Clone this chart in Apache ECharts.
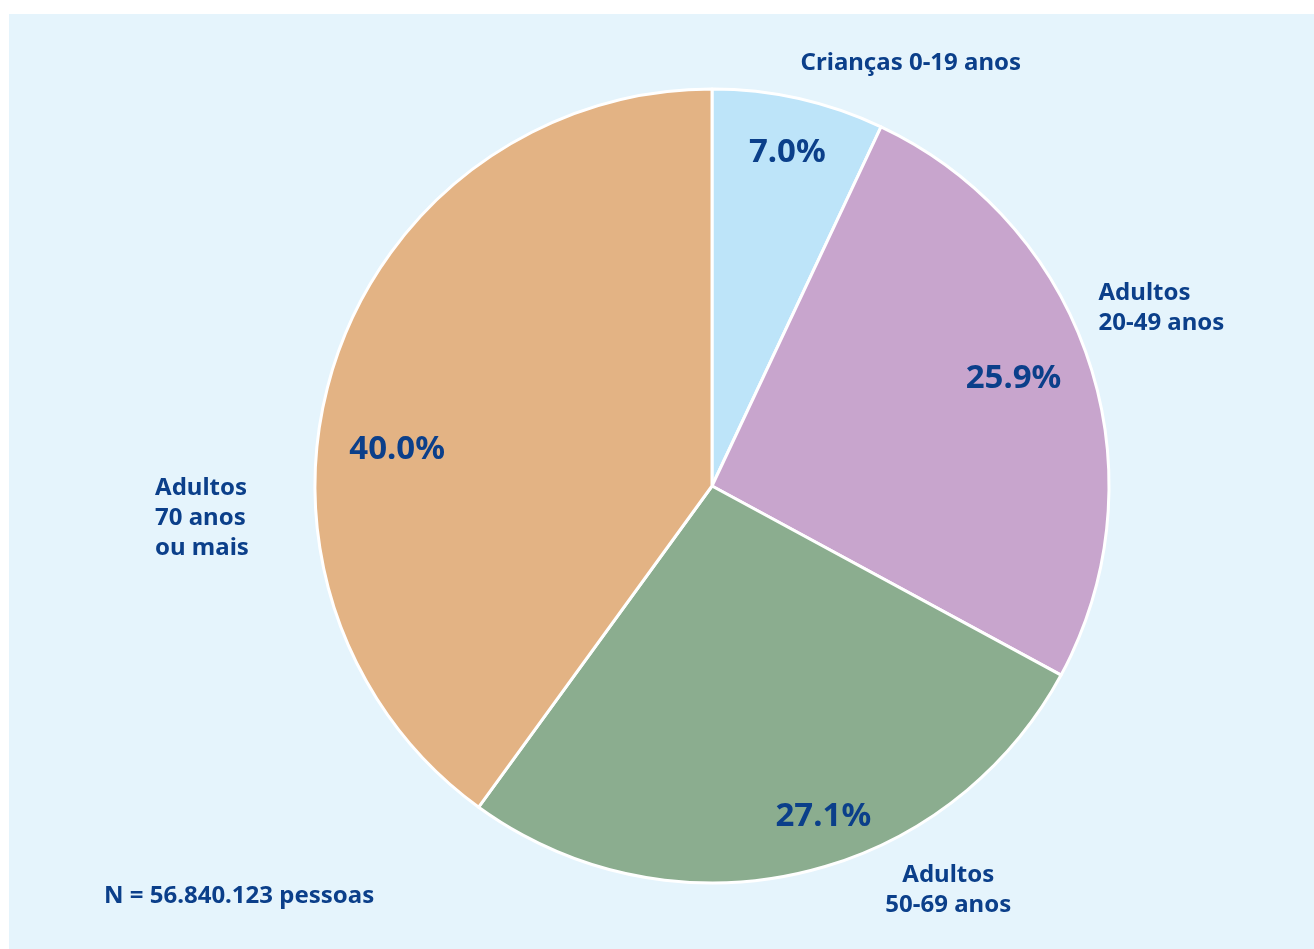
<!DOCTYPE html>
<html>
<head>
<meta charset="utf-8">
<script src="https://cdn.jsdelivr.net/npm/echarts@6/dist/echarts.min.js"></script>
<style>
html,body{margin:0;padding:0;background:#ffffff;}
#panel{position:absolute;left:9px;top:14px;width:1305px;height:935px;background:#E5F4FC;}
#chart{position:absolute;left:0;top:0;width:1314px;height:949px;}
</style>
</head>
<body>
<div id="panel"></div>
<div id="chart"></div>
<script>
const categories = ['Crianças 0-19 anos', 'Adultos\n20-49 anos', 'Adultos\n50-69 anos', 'Adultos\n70 anos\nou mais'];
const values = [7.0, 25.9, 27.1, 40.0];
const colors = ['#BDE4F9', '#C8A5CD', '#8BAD8F', '#E3B384'];
const footnote = 'N = 56.840.123 pessoas';

const TEXT = '#0B3F8A';
const FONT = '"Noto Sans", "Open Sans", sans-serif';
const pctOffsets = [[1,-1],[-22,-1],[36,-1],[9,69]];
const nameStyles = [
  {offset:[94,46], width:260, align:'center'},
  {offset:[7,-28], width:154, align:'left'},
  {offset:[130,-64], width:170, align:'center'},
  {offset:[-45,181], width:110, align:'left'}
];

const center = [712, 486];
const R = 397;

const chart = echarts.init(document.getElementById('chart'));
chart.setOption({
  backgroundColor: 'transparent',
  animation: false,
  graphic: [{
    type: 'text', x: 104, y: 896,
    style: {text: footnote, fill: TEXT, font: 'bold 24px ' + FONT, verticalAlign: 'middle'}
  }],
  series: [
    {
      type: 'pie', center: center, radius: [0, R], startAngle: 90, clockwise: true,
      silent: true, label: {show: false}, labelLine: {show: false},
      itemStyle: {borderColor: '#ffffff', borderWidth: 3},
      emphasis: {disabled: true},
      data: categories.map((c, i) => ({name: c, value: values[i], itemStyle: {color: colors[i]}}))
    },
    {
      type: 'pie', center: center, radius: [280, 395], startAngle: 90, clockwise: true,
      silent: true, avoidLabelOverlap: false, labelLine: {show: false},
      itemStyle: {color: 'transparent', borderWidth: 0},
      emphasis: {disabled: true},
      label: {show: true, position: 'inside', color: TEXT, fontWeight: 'bold', fontSize: 33, fontFamily: FONT,
        formatter: p => p.value.toFixed(1) + '%'},
      data: categories.map((c, i) => ({name: c, value: values[i], label: {offset: pctOffsets[i]}}))
    },
    {
      type: 'pie', center: center, radius: [395, 560], startAngle: 90, clockwise: true,
      silent: true, avoidLabelOverlap: false, labelLine: {show: false},
      itemStyle: {color: 'transparent', borderWidth: 0},
      emphasis: {disabled: true},
      label: {show: true, position: 'inside', color: TEXT, fontWeight: 'bold', fontSize: 24, fontFamily: FONT, lineHeight: 30},
      data: categories.map((c, i) => ({
        name: c, value: values[i],
        label: {
          offset: nameStyles[i].offset,
          formatter: '{t|' + c.split('\n').join('}\n{t|') + '}',
          rich: {t: {width: nameStyles[i].width, align: nameStyles[i].align, color: TEXT, fontWeight: 'bold', fontSize: 24, fontFamily: FONT, lineHeight: 30}}
        }
      }))
    }
  ]
});
</script>
</body>
</html>
